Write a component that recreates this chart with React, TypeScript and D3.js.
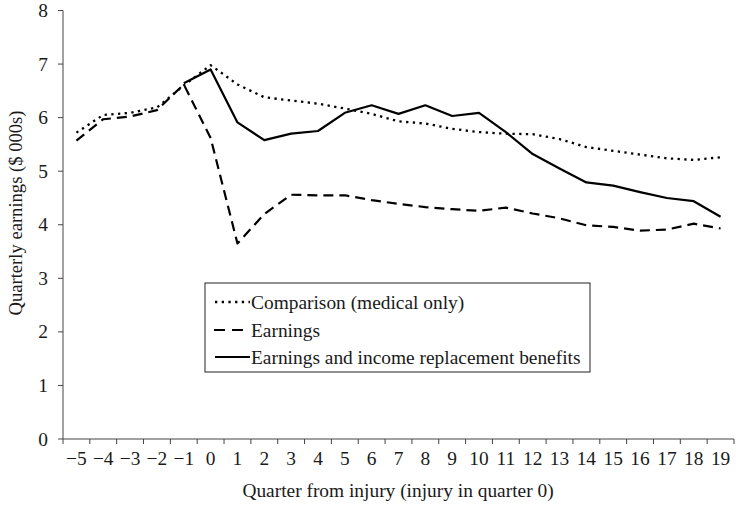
import React from "react";
import * as d3 from "d3";

const quarters: number[] = [-5, -4, -3, -2, -1, 0, 1, 2, 3, 4, 5, 6, 7, 8, 9, 10, 11, 12, 13, 14, 15, 16, 17, 18, 19];
const comparison: number[] = [5.72, 6.05, 6.09, 6.19, 6.6, 6.98, 6.62, 6.38, 6.32, 6.26, 6.17, 6.07, 5.93, 5.89, 5.79, 5.73, 5.7, 5.69, 5.6, 5.45, 5.38, 5.31, 5.24, 5.21, 5.26];
const earnings: number[] = [5.57, 5.97, 6.02, 6.14, 6.62, 5.62, 3.65, 4.2, 4.56, 4.55, 4.55, 4.46, 4.39, 4.33, 4.29, 4.26, 4.32, 4.21, 4.12, 3.99, 3.96, 3.89, 3.91, 4.02, 3.93];
const earningsBenefits: (number | null)[] = [null, null, null, null, 6.64, 6.9, 5.91, 5.58, 5.7, 5.75, 6.09, 6.23, 6.07, 6.23, 6.03, 6.09, 5.73, 5.32, 5.05, 4.79, 4.73, 4.61, 4.5, 4.44, 4.15];
const yTicks: number[] = [0, 1, 2, 3, 4, 5, 6, 7, 8];
const legendLabels: string[] = ["Comparison (medical only)", "Earnings", "Earnings and income replacement benefits"];

const W = 736;
const H = 507;
const left = 63;
const right = 734;
const top = 10.5;
const bottom = 439;
const FONT = "Liberation Serif, Tinos, Times New Roman, serif";
const txt: React.CSSProperties = { fontFamily: FONT, fontSize: 19.4 };

export default function App() {
  const x = d3.scaleBand<number>().domain(quarters).range([left, right]).paddingInner(0).paddingOuter(0);
  const y = d3.scaleLinear().domain([0, 8]).range([bottom, top]);
  const cx = (q: number) => (x(q) as number) + x.bandwidth() / 2;

  const line = d3
    .line<{ q: number; v: number | null }>()
    .defined((d) => d.v !== null)
    .x((d) => cx(d.q))
    .y((d) => y(d.v as number));

  const mk = (arr: (number | null)[]) => quarters.map((q, i) => ({ q, v: arr[i] }));

  const styles = [
    { dash: "2.3,4.4", width: 2.3 },
    { dash: "10,6", width: 2.2 },
    { dash: "none", width: 2.2 },
  ];
  const series = [comparison, earnings, earningsBenefits];

  const tickEdges = [...quarters.map((q) => x(q) as number), right];

  const legX = 205;
  const legY = 283;
  const legW = 385;
  const legH = 89;
  const rowY = [302, 330, 357];

  return (
    <svg width={W} height={H} style={{ position: "absolute", left: 0, top: 0, background: "#fff" }}>
      <line x1={left} x2={left} y1={top} y2={bottom} stroke="#444" strokeWidth={1} />
      <line x1={left} x2={right} y1={bottom} y2={bottom} stroke="#444" strokeWidth={1} />
      {yTicks.map((t) => (
        <g key={"y" + t}>
          <line x1={left - 5} x2={left} y1={y(t)} y2={y(t)} stroke="#444" />
          <text x={48} y={y(t)} dy="0.34em" textAnchor="end" style={txt} fill="#1a1a1a">
            {t}
          </text>
        </g>
      ))}
      {tickEdges.map((e, i) => (
        <line key={"xt" + i} x1={e} x2={e} y1={bottom} y2={bottom + 5} stroke="#444" />
      ))}
      {quarters.map((q) => (
        <text key={"xl" + q} x={cx(q)} y={465} textAnchor="middle" style={txt} fill="#1a1a1a">
          {q < 0 ? "\u2212" + Math.abs(q) : String(q)}
        </text>
      ))}
      <text x={398} y={497} textAnchor="middle" style={txt} fill="#1a1a1a">
        Quarter from injury (injury in quarter 0)
      </text>
      <text
        transform={`translate(22, 213) rotate(-90)`}
        textAnchor="middle"
        style={{ fontFamily: FONT, fontSize: 18.6 }}
        fill="#1a1a1a"
      >
        Quarterly earnings ($ 000s)
      </text>

      {series.map((s, i) => (
        <path
          key={"s" + i}
          d={line(mk(s)) || ""}
          fill="none"
          stroke="#000"
          strokeWidth={styles[i].width}
          strokeDasharray={styles[i].dash}
          strokeLinejoin="round"
        />
      ))}

      <rect x={legX} y={legY} width={legW} height={legH} fill="#fff" stroke="#222" strokeWidth={1} />
      {legendLabels.map((lab, i) => (
        <g key={"lg" + i}>
          <line
            x1={i === 1 ? 214 : 215}
            x2={250}
            y1={rowY[i]}
            y2={rowY[i]}
            stroke="#000"
            strokeWidth={styles[i].width}
            strokeDasharray={i === 1 ? "11,7" : styles[i].dash}
          />
          <text x={251} y={rowY[i]} dy="0.34em" style={txt} fill="#1a1a1a">
            {lab}
          </text>
        </g>
      ))}
    </svg>
  );
}
